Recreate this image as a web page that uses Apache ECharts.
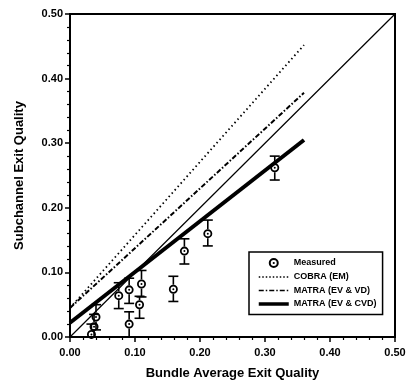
<!DOCTYPE html>
<html>
<head>
<meta charset="utf-8">
<script src="https://cdn.jsdelivr.net/npm/echarts@6/dist/echarts.min.js"></script>
<style>
  html, body { margin: 0; padding: 0; background: #fff; }
  #chart { width: 412px; height: 386px; }
</style>
</head>
<body>
<div id="chart"></div>
<script>
// measured points with error bars
const measuredX = [0.033, 0.037, 0.040, 0.075, 0.091, 0.091, 0.107, 0.110, 0.159, 0.176, 0.212, 0.315];
const measuredY = [0.004, 0.016, 0.031, 0.064, 0.073, 0.020, 0.050, 0.082, 0.074, 0.133, 0.160, 0.262];
const measuredLo = [0.000, 0.000, 0.011, 0.044, 0.052, 0.000, 0.029, 0.062, 0.055, 0.113, 0.141, 0.243];
const measuredHi = [0.020, 0.035, 0.050, 0.084, 0.091, 0.039, 0.063, 0.103, 0.094, 0.152, 0.181, 0.280];

// model lines (end points)
const cobraEM = [[0, 0.045], [0.36, 0.452]];
const matraEvVd = [[0, 0.045], [0.36, 0.378]];
const matraEvCvd = [[0, 0.022], [0.36, 0.305]];
const diagonal = [[0, 0], [0.5, 0.5]];

const axisTicks = [0, 0.1, 0.2, 0.3, 0.4, 0.5];

const ringIcon = 'path://M20,10 A10,10 0 1,1 0,10 A10,10 0 1,1 20,10 Z ' +
  'M16,10 A6,6 0 1,0 4,10 A6,6 0 1,0 16,10 Z ' +
  'M12.2,10 A2.2,2.2 0 1,1 7.8,10 A2.2,2.2 0 1,1 12.2,10 Z';

const chart = echarts.init(document.getElementById('chart'));
const font = 'Liberation Sans, Arial, sans-serif';

const axisCommon = {
  type: 'value',
  min: axisTicks[0],
  max: axisTicks[axisTicks.length - 1],
  interval: 0.1,
  nameLocation: 'middle',
  nameTextStyle: { color: '#000', fontWeight: 'bold', fontSize: 13, fontFamily: font },
  axisLine: { show: true, lineStyle: { color: '#000', width: 2 } },
  axisTick: { show: true, length: 5, lineStyle: { color: '#000', width: 1.5 } },
  minorTick: { show: true, splitNumber: 5, length: 3, lineStyle: { color: '#000', width: 1.2 } },
  splitLine: { show: false },
  axisLabel: {
    color: '#000', fontWeight: 'bold', fontSize: 11, fontFamily: font,
    formatter: v => v.toFixed(2)
  }
};

const errData = measuredX.map((x, i) => [x, measuredLo[i], measuredHi[i], measuredY[i]]);
const hideSymbol = { opacity: 0 };

chart.setOption({
  backgroundColor: '#fff',
  animation: false,
  color: ['#000'],
  grid: {
    left: 70, right: 17, top: 14, bottom: 49,
    show: true, borderColor: '#000', borderWidth: 2
  },
  xAxis: Object.assign({}, axisCommon, {
    name: 'Bundle Average Exit Quality',
    nameGap: 30,
    axisLabel: Object.assign({}, axisCommon.axisLabel, { margin: 10 })
  }),
  yAxis: Object.assign({}, axisCommon, {
    name: 'Subchannel Exit Quality',
    nameGap: 44,
    axisLabel: Object.assign({}, axisCommon.axisLabel, { margin: 7 })
  }),
  legend: {
    orient: 'vertical',
    left: 249, top: 252,
    width: 130,
    padding: [6, 6, 6, 8],
    itemWidth: 30, itemHeight: 10, itemGap: 4.5,
    borderColor: '#000', borderWidth: 1.5,
    backgroundColor: '#fff',
    textStyle: { color: '#000', fontWeight: 'bold', fontSize: 9, fontFamily: font },
    data: [
      { name: 'Measured', icon: ringIcon },
      { name: 'COBRA (EM)', itemStyle: hideSymbol, lineStyle: { width: 1.5, type: [1.5, 2] } },
      { name: 'MATRA (EV & VD)', itemStyle: hideSymbol, lineStyle: { width: 1.5 } },
      { name: 'MATRA (EV & CVD)', itemStyle: hideSymbol, lineStyle: { width: 3.5 } }
    ]
  },
  series: [
    {
      name: 'y = x', type: 'line', data: diagonal, symbol: 'none',
      lineStyle: { color: '#000', width: 1.2 }, z: 2
    },
    {
      name: 'COBRA (EM)', type: 'line', data: cobraEM, symbol: 'none',
      itemStyle: { color: '#000' },
      lineStyle: { color: '#000', width: 1.8, type: [1.5, 3] }, z: 2
    },
    {
      name: 'MATRA (EV & VD)', type: 'line', data: matraEvVd, symbol: 'none',
      itemStyle: { color: '#000' },
      lineStyle: { color: '#000', width: 2, type: [5, 2, 1.5, 2] }, z: 2
    },
    {
      name: 'MATRA (EV & CVD)', type: 'line', data: matraEvCvd, symbol: 'none',
      itemStyle: { color: '#000' },
      lineStyle: { color: '#000', width: 4 }, z: 3
    },
    {
      name: 'Measured', type: 'custom', data: errData, z: 4,
      renderItem: (params, api) => {
        const x = api.value(0);
        const lo = api.coord([x, api.value(1)]);
        const hi = api.coord([x, api.value(2)]);
        const c = api.coord([x, api.value(3)]);
        const r = 4.5, cap = 5;
        const st = { stroke: '#000', lineWidth: 1.6 };
        return {
          type: 'group',
          children: [
            { type: 'line', shape: { x1: c[0], y1: c[1] - r, x2: hi[0], y2: hi[1] }, style: st },
            { type: 'line', shape: { x1: c[0], y1: c[1] + r, x2: lo[0], y2: lo[1] }, style: st },
            { type: 'line', shape: { x1: hi[0] - cap, y1: hi[1], x2: hi[0] + cap, y2: hi[1] }, style: st },
            { type: 'line', shape: { x1: lo[0] - cap, y1: lo[1], x2: lo[0] + cap, y2: lo[1] }, style: st }
          ]
        };
      },
      itemStyle: { color: '#000' }
    },
    {
      name: 'Measured', type: 'scatter', z: 5,
      data: measuredX.map((x, i) => [x, measuredY[i]]),
      symbol: ringIcon, symbolSize: 9,
      itemStyle: { color: '#000', opacity: 1 }
    }
  ]
});
</script>
</body>
</html>
